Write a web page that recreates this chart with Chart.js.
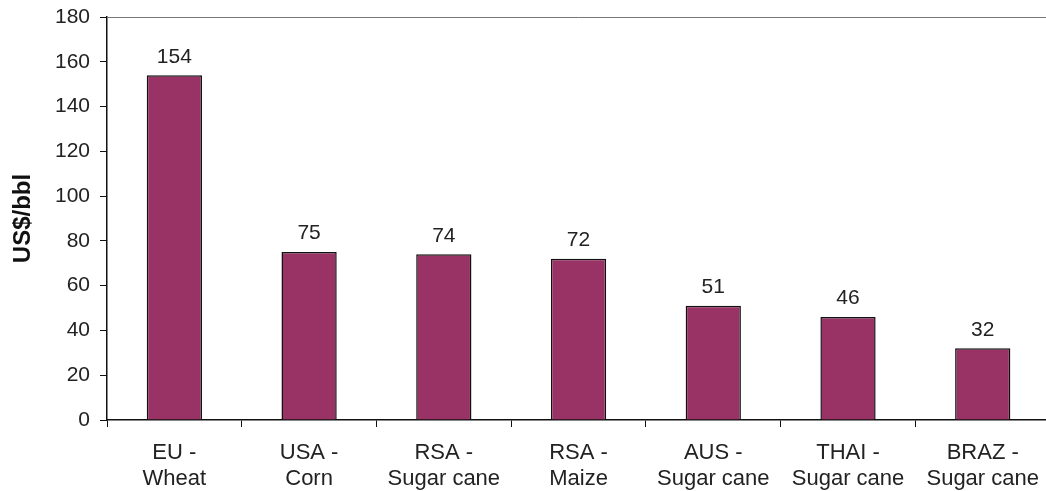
<!DOCTYPE html>
<html>
<head>
<meta charset="utf-8">
<script src="https://cdn.jsdelivr.net/npm/chart.js@4"></script>
<style>
  html, body { margin: 0; padding: 0; background: #fff; overflow: hidden; }
  #wrap { width: 1052px; height: 491px; }
</style>
</head>
<body>
<div id="wrap"><canvas id="chart"></canvas></div>
<script>
// data
const categories = [
  ["EU -", "Wheat"],
  ["USA -", "Corn"],
  ["RSA -", "Sugar cane"],
  ["RSA -", "Maize"],
  ["AUS -", "Sugar cane"],
  ["THAI -", "Sugar cane"],
  ["BRAZ -", "Sugar cane"]
];
const costs = [154, 75, 74, 72, 51, 46, 32];
const yTicks = [0, 20, 40, 60, 80, 100, 120, 140, 160, 180];

const FONT = "'Liberation Sans', Arial, sans-serif";

// value labels above bars + thin line on top of plot
const barLabels = {
  id: "barLabels",
  afterDatasetsDraw(chart) {
    const ctx = chart.ctx;
    const meta = chart.getDatasetMeta(0);
    ctx.save();
    ctx.font = "21px " + FONT;
    ctx.fillStyle = "#222";
    ctx.textAlign = "center";
    ctx.textBaseline = "bottom";
    meta.data.forEach((bar, i) => {
      ctx.fillText(String(costs[i]), bar.x, bar.y - 8);
    });
    const area = chart.chartArea;
    ctx.strokeStyle = "#777";
    ctx.lineWidth = 1;
    ctx.beginPath();
    ctx.moveTo(area.left, area.top + 0.5);
    ctx.lineTo(area.right, area.top + 0.5);
    ctx.stroke();
    ctx.restore();
  }
};

new Chart(document.getElementById("chart"), {
  type: "bar",
  data: {
    labels: categories,
    datasets: [{
      data: costs,
      backgroundColor: "#993366",
      borderColor: "#111",
      borderWidth: 1.5,
      barPercentage: 0.41,
      categoryPercentage: 1
    }]
  },
  options: {
    responsive: true,
    maintainAspectRatio: false,
    animation: false,
    layout: { padding: { top: 17, right: 0, left: 0, bottom: 0 } },
    plugins: {
      legend: { display: false },
      tooltip: { enabled: false }
    },
    scales: {
      x: {
        grid: { drawOnChartArea: false, tickLength: 7, color: "#111", offset: true },
        border: { color: "#111", width: 1.5 },
        ticks: { color: "#222", font: { family: FONT, size: 22, lineHeight: 1.18 }, padding: 13, maxRotation: 0, autoSkip: false },
        afterFit(scale) { scale.height = 71; }
      },
      y: {
        min: 0,
        max: 180,
        afterBuildTicks(scale) { scale.ticks = yTicks.map(v => ({ value: v })); },
        grid: { drawOnChartArea: false, tickLength: 7, color: "#111" },
        border: { color: "#111", width: 1.5 },
        ticks: { color: "#222", font: { family: FONT, size: 21, lineHeight: 0.6 }, padding: 10 },
        title: {
          display: true,
          text: "US$/bbl",
          color: "#111",
          font: { family: FONT, size: 24, weight: "bold" },
          padding: { top: 9, bottom: 0 }
        },
        afterFit(scale) { scale.width = 107; }
      }
    }
  },
  plugins: [barLabels]
});
</script>
</body>
</html>
